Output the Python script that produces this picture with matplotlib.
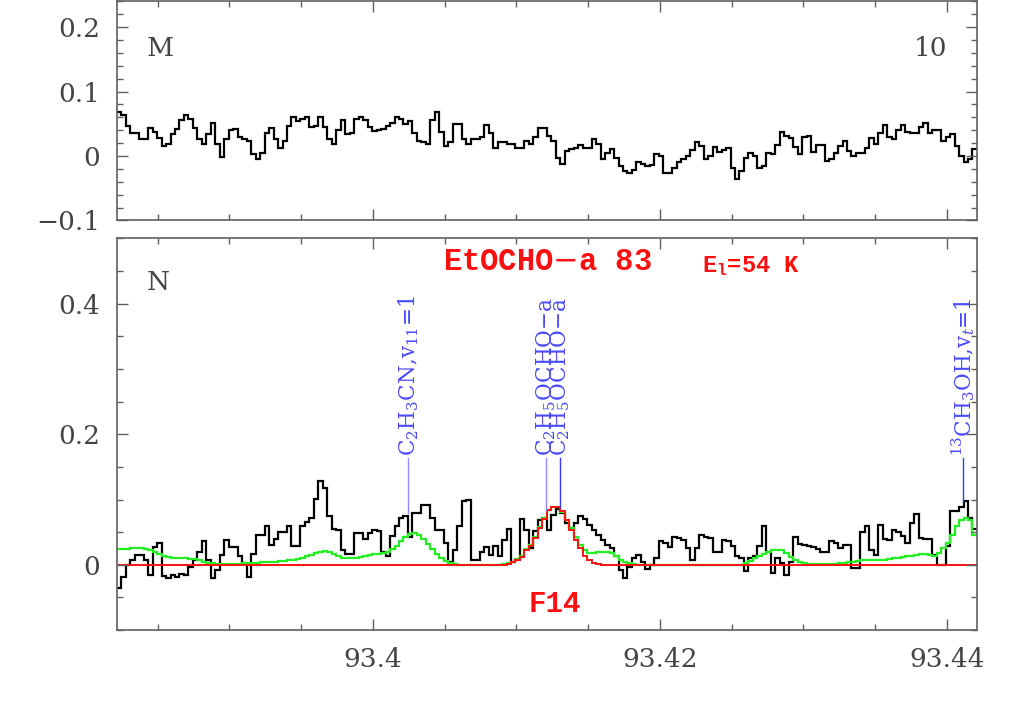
import numpy as np
import matplotlib
matplotlib.use('Agg')
from matplotlib import pyplot as plt
from matplotlib.ticker import MultipleLocator, FuncFormatter

plt.rcParams['font.family'] = ['DejaVu Serif']
plt.rcParams['mathtext.fontset'] = 'dejavuserif'

# spectral axis (GHz), same channels for both panels
freq_start = 93.38216
chan_width = 0.0003122

# panel M : residual spectrum
resid_spec = [
    0.068, 0.063, 0.047, 0.035, 0.036, 0.026, 0.026, 0.044, 0.038, 0.028,
    0.016, 0.019, 0.034, 0.042, 0.056, 0.063, 0.057, 0.044, 0.026, 0.018,
    0.034, 0.052, 0.018, -0.002, 0.026, 0.040, 0.042, 0.029, 0.026, 0.023,
    0.003, -0.005, 0.005, 0.035, 0.044, 0.026, 0.013, 0.023, 0.047, 0.060,
    0.054, 0.057, 0.060, 0.045, 0.047, 0.061, 0.045, 0.027, 0.019, 0.040,
    0.056, 0.034, 0.036, 0.057, 0.060, 0.056, 0.045, 0.039, 0.040, 0.042,
    0.047, 0.052, 0.060, 0.057, 0.050, 0.054,
    0.035, 0.024, 0.021, 0.019, 0.056, 0.068, 0.038, 0.016, 0.022, 0.050,
    0.049, 0.026, 0.019, 0.026, 0.026, 0.030, 0.048, 0.035, 0.013, 0.021,
    0.021, 0.018, 0.019, 0.012, 0.012, 0.024, 0.019, 0.030, 0.043, 0.043,
    0.031, 0.023, -0.003, -0.013, 0.008, 0.011, 0.012, 0.017, 0.012, 0.012,
    0.027, 0.019, -0.005, 0.005, 0.011, -0.003, -0.016, -0.024, -0.026, -0.021,
    -0.010, -0.012, -0.016, -0.014, 0.003, 0.000, -0.026, -0.026, -0.018, -0.010,
    -0.005, 0.000, 0.009, 0.021,
    0.015, -0.004, 0.000, 0.014, 0.007, 0.009, 0.012, -0.018, -0.036, -0.024,
    -0.003, 0.005, 0.000, -0.019, -0.016, 0.005, 0.003, 0.017, 0.038, 0.031,
    0.028, 0.014, 0.003, 0.030, 0.031, 0.007, 0.017, 0.017, -0.007, -0.005,
    0.004, 0.015, 0.024, 0.008, 0.000, 0.005, 0.005, 0.012, 0.028, 0.019,
    0.035, 0.048, 0.030, 0.026, 0.040, 0.048, 0.038, 0.036, 0.036, 0.045,
    0.052, 0.035, 0.040, 0.040, 0.024, 0.029, 0.034, 0.016, 0.000, -0.010,
    -0.005, 0.011,
]

# panel N : observed spectrum
obs_spec = [
    -0.036, -0.018, 0.000, 0.008, 0.015, 0.015, 0.008, -0.015, 0.027, 0.034,
    -0.017, -0.020, -0.015, -0.018, -0.014, -0.015, -0.004, 0.008, 0.020, 0.036,
    0.008, -0.020, -0.008, 0.015, 0.038, 0.027, 0.027, 0.013, 0.003, -0.018,
    0.017, 0.046, 0.046, 0.059, 0.031, 0.039, 0.050, 0.050, 0.060, 0.028,
    0.028, 0.059, 0.065, 0.072, 0.101, 0.128, 0.118, 0.074, 0.055, 0.054,
    0.023, 0.017, 0.017, 0.049, 0.049, 0.039, 0.049, 0.053, 0.051, 0.020,
    0.014, 0.044, 0.060, 0.072, 0.075,
    0.043, 0.079, 0.079, 0.092, 0.092, 0.072, 0.053, 0.053, 0.033, 0.005,
    0.023, 0.059, 0.097, 0.099, 0.008, 0.008, 0.020, 0.027, 0.015, 0.028,
    0.013, 0.038, 0.055, 0.004, 0.008, 0.070, 0.054, 0.026, 0.051, 0.069,
    0.072, 0.054, 0.077, 0.086, 0.080, 0.064, 0.056, 0.064, 0.074, 0.070,
    0.061, 0.054, 0.046, 0.038, 0.031, 0.026, 0.013, -0.008, -0.020, -0.003,
    0.010, 0.015, 0.005, -0.007, 0.000, 0.010, 0.036, 0.034, 0.027, 0.043,
    0.041, 0.038, 0.026, 0.008, 0.026,
    0.046, 0.043, 0.041, 0.020, 0.020, 0.038, 0.036, 0.028, 0.013, 0.010,
    -0.010, 0.010, 0.013, 0.029, 0.060, 0.020, -0.013, 0.010, 0.003, -0.015,
    0.005, 0.043, 0.032, 0.031, 0.029, 0.027, 0.024, 0.020, 0.020, 0.037,
    0.034, 0.026, 0.031, 0.031, -0.005, -0.005, 0.050, 0.060, 0.023, 0.015,
    0.061, 0.039, 0.038, 0.053, 0.050, 0.044, 0.034, 0.064, 0.078, 0.041,
    0.039, 0.039, 0.015, 0.000, 0.000, 0.029, 0.082, 0.083, 0.089, 0.097,
    0.072, 0.055,
]

# model with all species (green)
model_all = (
    [0.024, 0.024, 0.024, 0.025, 0.025, 0.025, 0.024,
     0.022, 0.019, 0.016, 0.014, 0.012, 0.011, 0.010, 0.010, 0.010, 0.009,
     0.009, 0.007, 0.005, 0.003, 0.002, 0.001,
     0.0005, 0.0005, 0.001, 0.001, 0.001,
     0.002, 0.002, 0.003, 0.003, 0.004, 0.004, 0.005, 0.005, 0.006, 0.006,
     0.007, 0.008, 0.009, 0.011, 0.013, 0.015, 0.018, 0.020,
     0.021, 0.019, 0.016, 0.013, 0.011, 0.010, 0.010, 0.011, 0.012, 0.014,
     0.015, 0.016, 0.017, 0.018, 0.020, 0.024, 0.029, 0.036, 0.042,
     0.047, 0.049, 0.046, 0.040, 0.032, 0.024, 0.016, 0.010, 0.006, 0.003, 0.001]
    + [0.0] * 10
    + [0.0005, 0.002, 0.005, 0.009, 0.014, 0.024, 0.031, 0.043, 0.058, 0.071,
       0.084, 0.088, 0.088, 0.081, 0.069, 0.056, 0.042, 0.031, 0.023, 0.018,
       0.018, 0.019, 0.020, 0.020, 0.018, 0.013, 0.008, 0.004, 0.002, 0.001]
    + [0.0] * 24
    + [0.002, 0.006, 0.010, 0.014, 0.017, 0.020, 0.022, 0.023, 0.022, 0.018,
       0.012, 0.007, 0.004, 0.002]
    + [0.001] * 7
    + [0.002, 0.003, 0.004, 0.005, 0.006, 0.007, 0.007, 0.008, 0.008, 0.008,
       0.008, 0.009, 0.010, 0.011, 0.012, 0.013, 0.014, 0.015, 0.016, 0.016,
       0.015, 0.014, 0.018, 0.025, 0.033, 0.046, 0.060, 0.068, 0.072, 0.068,
       0.045]
)

# EtOCHO-a model (red)
model_etocho = (
    [0.0] * 86
    + [0.0, 0.001, 0.004, 0.008, 0.012, 0.023, 0.029, 0.041, 0.056, 0.070,
       0.084, 0.089, 0.089, 0.082, 0.069, 0.054, 0.038, 0.026, 0.014, 0.007,
       0.002, 0.001]
    + [0.0] * 84
)

# line identifications
line_freq = [93.40248, 93.41208, 93.41307, 93.44116]
line_name = [r'C$_2$H$_3$CN,v$_{11}$=1', r'C$_2$H$_5$OCHO$-$a',
             r'C$_2$H$_5$OCHO$-$a', r'$^{13}$CH$_3$OH,v$_t$=1']
line_color = ['#8c8cff', '#8c8cff', '#3c3cff', '#3c3cff']

xmin, xmax = 93.38216, 93.44213
axis_gray = '#606060'
text_gray = '#444444'


def edges_for(vals):
    return freq_start + chan_width * np.arange(len(vals) + 1)


def fmt(v, pos):
    # %g with a real minus sign
    return ('%g' % round(v, 6)).replace('-', '\u2212')


def style_axis(ax, ymajor, yminor):
    ax.set_xlim(xmin, xmax)
    ax.xaxis.set_major_locator(MultipleLocator(0.02))
    ax.xaxis.set_minor_locator(MultipleLocator(0.005))
    ax.yaxis.set_major_locator(MultipleLocator(ymajor))
    ax.yaxis.set_minor_locator(MultipleLocator(yminor))
    ax.xaxis.set_major_formatter(FuncFormatter(fmt))
    ax.yaxis.set_major_formatter(FuncFormatter(fmt))
    ax.tick_params(which='both', direction='in', top=True, right=True,
                   color=axis_gray, width=1.0, labelsize=19,
                   labelcolor=text_gray)
    ax.tick_params(which='major', length=8)
    ax.tick_params(which='minor', length=4.5)
    ax.tick_params(axis='y', pad=12)
    ax.tick_params(axis='x', pad=12)
    for s in ax.spines.values():
        s.set_color(axis_gray)
        s.set_linewidth(1.2)


fig = plt.figure(figsize=(10.25, 7.17), dpi=100)
ax1 = fig.add_axes([0.1139, 0.6925, 0.8396, 0.3065])
ax2 = fig.add_axes([0.1139, 0.1213, 0.8396, 0.5461])

# top panel
ax1.stairs(resid_spec, edges_for(resid_spec), baseline=None, color='k', lw=1.6)
ax1.set_ylim(-0.1, 0.241)
style_axis(ax1, 0.1, 0.02)
ax1.tick_params(labelbottom=False)
ax1.text(0.035, 0.84, 'M', transform=ax1.transAxes, fontsize=19,
         color=text_gray, va='top', ha='left')
ax1.text(0.965, 0.84, '10', transform=ax1.transAxes, fontsize=19,
         color=text_gray, va='top', ha='right')

# bottom panel
ax2.stairs(obs_spec, edges_for(obs_spec), baseline=None, color='k', lw=1.6)
ax2.stairs(model_all, edges_for(model_all), baseline=None, color='#22ee22', lw=1.6)
ax2.stairs(model_etocho, edges_for(model_etocho), baseline=None, color='#ff1010', lw=1.4)
ax2.set_ylim(-0.1, 0.5)
style_axis(ax2, 0.2, 0.05)

for f, name, c in zip(line_freq, line_name, line_color):
    i = int((f - freq_start) / chan_width)
    lo = max(max(obs_spec[i - 1:i + 2]), max(model_all[i - 1:i + 2]))
    ax2.plot([f, f], [lo, 0.163], color=c, lw=1.0)
    ax2.text(f, 0.166, name, rotation=90, ha='center', va='bottom',
             fontsize=15.5, color='#4a4aff')

ax2.text(0.035, 0.92, 'N', transform=ax2.transAxes, fontsize=19,
         color=text_gray, va='top', ha='left')
ax2.text(0.5, 0.919, 'EtOCHO$-$a 83', transform=ax2.transAxes, fontsize=22,
         family='Liberation Mono', weight='bold', color='#ff1010',
         ha='center', va='baseline')
ax2.text(0.68, 0.915, r'E$_\mathregular{l}$=54 K', transform=ax2.transAxes,
         fontsize=17, family='Liberation Mono', weight='bold', color='#ff1010',
         ha='left', va='baseline')
ax2.text(0.509, 0.046, 'F14', transform=ax2.transAxes, fontsize=21,
         family='Liberation Mono', weight='bold', color='#ff1010',
         ha='center', va='baseline')

fig.savefig('out.png', dpi=100)
